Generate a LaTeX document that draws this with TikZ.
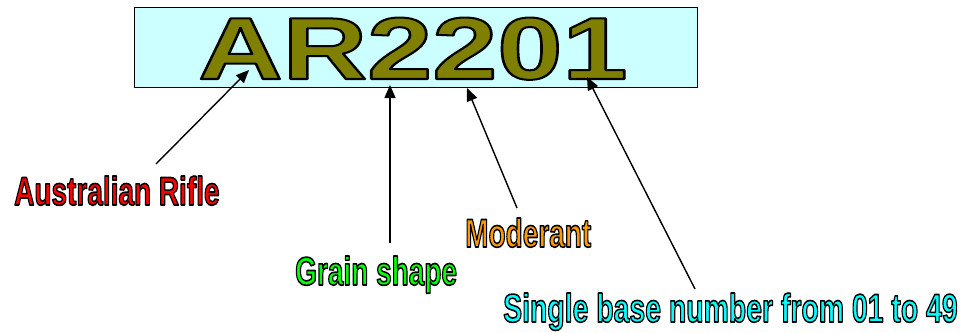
\documentclass[tikz,border=0pt]{standalone}
\usepackage{fontspec}
\setmainfont{Liberation Sans}
\usetikzlibrary{arrows.meta}
\definecolor{boxfill}{HTML}{CCFFFF}
\definecolor{olivetxt}{HTML}{808000}
\definecolor{redtxt}{HTML}{FF0000}
\definecolor{greentxt}{HTML}{00FF00}
\definecolor{orangetxt}{HTML}{FF9900}
\definecolor{cyantxt}{HTML}{00FFFF}
% fill + stroke text rendering (text render mode 2) with a black outline
\newcommand\outl[3]{{\color{#1}\special{pdf:literal direct 2 Tr #2 w 0 G 1 j}#3\special{pdf:literal direct 0 Tr}}}
\begin{document}
\begin{tikzpicture}[x=1pt,y=-1pt,
  lbl/.style={font=\bfseries\fontsize{40}{48}\selectfont, inner sep=0pt, anchor=base west},
  bigtxt/.style={font=\bfseries\fontsize{88}{100}\selectfont, inner sep=0pt, anchor=base west},
  pointer/.style={draw=black, line width=1.4pt, -{Triangle[length=13pt,width=11pt]}}]
\useasboundingbox (0,0) rectangle (966,332);
\node[draw=black, line width=1.4pt, fill=boxfill, minimum width=563pt, minimum height=80pt, inner sep=0pt, anchor=north west] (box) at (134,7) {};
\node[bigtxt] (code) at (198,79) {\scalebox{1.33}[1]{\outl{olivetxt}{2}{AR2201}}};
\node[lbl] (rifle) at (14,205) {\scalebox{0.7}[1]{\outl{redtxt}{1.6}{Australian Rifle}}};
\node[lbl] (grain) at (295,285) {\scalebox{0.7}[1]{\outl{greentxt}{1.6}{Grain shape}}};
\node[lbl] (moder) at (465,247) {\scalebox{0.7}[1]{\outl{orangetxt}{1.6}{Moderant}}};
\node[lbl] (single) at (503,322) {\scalebox{0.71}[1]{\outl{cyantxt}{1.6}{Single base number from 01 to 49}}};
\coordinate (t1) at (156,164);
\coordinate (h1) at (249,70);
\coordinate (t2) at (390,243);
\coordinate (h2) at (390,85);
\coordinate (t3) at (517,208);
\coordinate (h3) at (467,88);
\coordinate (t4) at (695,289);
\coordinate (h4) at (587,77);
\draw[pointer] (t1) -- (h1);
\draw[pointer] (t2) -- (h2);
\draw[pointer] (t3) -- (h3);
\draw[pointer] (t4) -- (h4);
\end{tikzpicture}
\end{document}
